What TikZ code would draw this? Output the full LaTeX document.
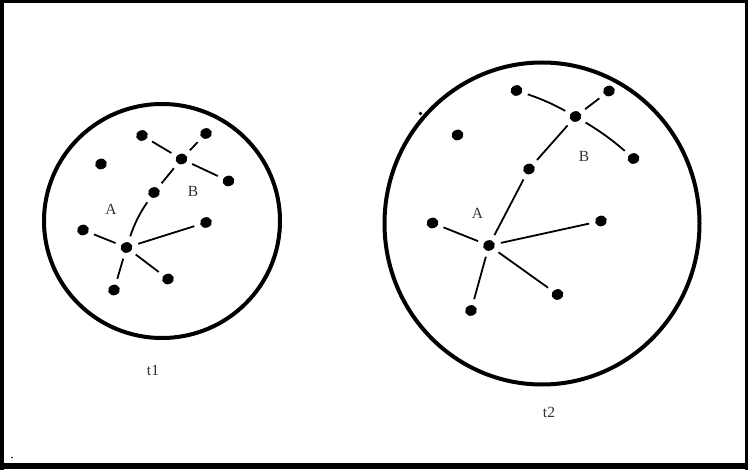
\documentclass[tikz,border=0pt]{standalone}
\usepackage{fontspec}
\setmainfont{Liberation Serif}
\usetikzlibrary{shapes.geometric}
\begin{document}
\begin{tikzpicture}[x=1pt,y=-1pt,
  dotn/.style={ellipse,fill=black,inner sep=0pt,minimum width=12pt,minimum height=10.5pt,rotate=20},
  edge/.style={line width=1.8pt,shorten <=6pt,shorten >=6pt},
  ring/.style={line width=4pt},
  lbl/.style={font=\fontsize{15.5}{18}\selectfont,text=black!80}]
\useasboundingbox (0,0) rectangle (748,470);
% frame
\draw[line width=3.5pt] (0,1.75) -- (748,1.75);
\draw[line width=3.5pt] (1.75,0) -- (1.75,470);
\draw[line width=3.5pt] (746.25,0) -- (746.25,470);
\draw[line width=6pt] (0,466) -- (748,466);
% circles
\draw[ring] (162,221) ellipse (118pt and 117pt);
\draw[ring] (542,223.5) ellipse (157.5pt and 161pt);
% small marks
\fill (420.5,113.5) circle (1.8pt);
\fill (12,457.5) circle (0.8pt);
% --- t1 ---
\node[dotn] (d1) at (142,135.5) {};
\node[dotn] (d2) at (206,133.5) {};
\node[dotn] (d3) at (101,164) {};
\node[dotn] (d4) at (181.5,159) {};
\node[dotn] (d5) at (228.5,181) {};
\node[dotn] (d6) at (154,192.5) {};
\node[dotn] (d7) at (206,222.5) {};
\node[dotn] (d8) at (83,230) {};
\node[dotn] (d9) at (126.5,247.5) {};
\node[dotn] (d10) at (168,279) {};
\node[dotn] (d11) at (114,290) {};
\draw[edge] (d1) -- (d4);
\draw[edge] (d2) -- (d4);
\draw[edge] (d4) -- (d5);
\draw[edge] (d4) -- (d6);
\draw[edge] (d6) to[bend right=8] (d9);
\draw[edge] (d8) -- (d9);
\draw[edge] (d9) -- (d7);
\draw[edge] (d9) -- (d10);
\draw[edge] (d9) -- (d11);
\node[lbl] (la1) at (111,209) {A};
\node[lbl] (lb1) at (193,191) {B};
\node[lbl] (t1) at (153,370) {t1};
% --- t2 ---
\node[dotn] (e1) at (516.5,90.5) {};
\node[dotn] (e2) at (609,91) {};
\node[dotn] (e3) at (575.5,116.5) {};
\node[dotn] (e4) at (457.5,135) {};
\node[dotn] (e5) at (633.5,158.5) {};
\node[dotn] (e6) at (529,169) {};
\node[dotn] (e7) at (432.5,223) {};
\node[dotn] (e8) at (601,221) {};
\node[dotn] (e9) at (489,245.5) {};
\node[dotn] (e10) at (557.5,294.5) {};
\node[dotn] (e11) at (471,310.5) {};
\draw[edge] (e1) to[bend left=5] (e3);
\draw[edge] (e2) -- (e3);
\draw[edge] (e3) to[bend left=5] (e5);
\draw[edge] (e3) -- (e6);
\draw[edge] (e6) -- (e9);
\draw[edge] (e7) -- (e9);
\draw[edge] (e9) -- (e8);
\draw[edge] (e9) -- (e10);
\draw[edge] (e9) -- (e11);
\node[lbl] (la2) at (477.5,213) {A};
\node[lbl] (lb2) at (584,156) {B};
\node[lbl] (t2) at (549,412.5) {t2};
\end{tikzpicture}
\end{document}
